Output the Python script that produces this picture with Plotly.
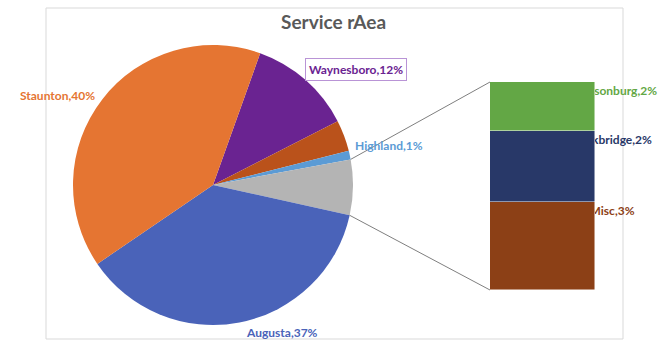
import math
import plotly.graph_objects as go

W, H = 665, 350

# ---- data ----
# pie slices, clockwise order starting at the Staunton/Waynesboro edge
pie_names = ["Waynesboro", "Other", "Highland", "Harrisonburg, Rockbridge & Misc", "Augusta", "Staunton"]
bar_names = ["Misc", "Rockbridge", "Harrisonburg"]          # bottom -> top
bar_values = [2.7, 2.2, 1.5]
pie_values_main = {"Waynesboro": 12, "Other": 3.6, "Highland": 1, "Augusta": 37, "Staunton": 40}
pie_values = [pie_values_main.get(n, sum(bar_values)) for n in pie_names]

pie_colors = ["#6A2391", "#BA521B", "#5B9BD5", "#B4B4B4", "#4A63B9", "#E57532"]
bar_colors = ["#8C4016", "#283868", "#63A745"]

# ---- geometry (styling) ----
CX, CY, R = 213, 185, 140           # pie centre / radius in px
ROT = 19.7                          # degrees clockwise from 12 o'clock
BAR_X0, BAR_X1, BAR_Y0, BAR_Y1 = 490, 595, 82, 290
AREA_X1 = 662                        # right end of the bar subplot area (for labels)
FONT = "Lato"

def px_x(x):
    return x / W

def px_y(y):
    return 1 - y / H

total = sum(pie_values)

fig = go.Figure()

fig.add_trace(go.Pie(
    labels=pie_names, values=pie_values, sort=False, direction="clockwise",
    rotation=ROT, textinfo="none", hoverinfo="label+percent",
    marker=dict(colors=pie_colors, line=dict(width=0)),
    domain=dict(x=[px_x(CX - R), px_x(CX + R)], y=[px_y(CY + R), px_y(CY - R)]),
    showlegend=False,
))

# labels of the bar (drawn underneath the bar, so the bar hides their start)
bar_total = sum(bar_values)
tops = []
acc = 0
for v in bar_values:
    acc += v
    tops.append(acc)
LABEL_DROP = 0.3
LABEL_CENTER_PX = 612
fig.add_trace(go.Scatter(
    x=[LABEL_CENTER_PX - BAR_X0] * len(bar_names), y=[t - LABEL_DROP for t in tops],
    mode="text",
    text=[f"<b>{n},{int(v + 0.5)}%</b>" for n, v in zip(bar_names, bar_values)],
    textposition="middle center",
    textfont=dict(family=FONT, size=12, color=bar_colors),
    cliponaxis=False, showlegend=False, hoverinfo="skip",
    xaxis="x", yaxis="y",
))

for n, v, c in zip(bar_names, bar_values, bar_colors):
    fig.add_trace(go.Bar(
        x=[0], y=[v], name=n, width=1,
        marker=dict(color=c, line=dict(color="rgba(255,255,255,0.6)", width=0.8)),
        showlegend=False, xaxis="x2", yaxis="y2",
    ))

span_px = AREA_X1 - BAR_X0
bar_px = BAR_X1 - BAR_X0
axis_common = dict(visible=False, showgrid=False, zeroline=False, fixedrange=True)
fig.update_layout(
    width=W, height=H, margin=dict(l=0, r=0, t=0, b=0),
    paper_bgcolor="white", plot_bgcolor="rgba(0,0,0,0)",
    barmode="stack", bargap=0,
    xaxis=dict(domain=[px_x(BAR_X0), px_x(AREA_X1)], range=[0, span_px], **axis_common),
    yaxis=dict(domain=[px_y(BAR_Y1), px_y(BAR_Y0)], range=[0, bar_total], **axis_common),
    xaxis2=dict(overlaying="x", range=[-0.5, -0.5 + span_px / bar_px], **axis_common),
    yaxis2=dict(overlaying="y", range=[0, bar_total], **axis_common),
)

# connector lines from the grey slice to the bar
cum_before = sum(pie_values[:3])
a0 = math.radians(ROT + 360 * cum_before / total)
a1 = math.radians(ROT + 360 * (cum_before + pie_values[3]) / total)
p0 = (CX + R * math.sin(a0), CY - R * math.cos(a0))
p1 = (CX + R * math.sin(a1), CY - R * math.cos(a1))
shapes = [
    dict(type="rect", xref="paper", yref="paper", x0=px_x(46), x1=px_x(623), y0=px_y(339), y1=px_y(8),
         line=dict(color="#D9D9D9", width=1), fillcolor="rgba(0,0,0,0)", layer="below"),
    dict(type="line", xref="paper", yref="paper", x0=px_x(p0[0]), y0=px_y(p0[1]), x1=px_x(BAR_X0), y1=px_y(BAR_Y0),
         line=dict(color="#7F7F7F", width=1)),
    dict(type="line", xref="paper", yref="paper", x0=px_x(p1[0]), y0=px_y(p1[1]), x1=px_x(BAR_X0), y1=px_y(BAR_Y1),
         line=dict(color="#7F7F7F", width=1)),
]
fig.update_layout(shapes=shapes)

pct = {n: v / total * 100 for n, v in zip(pie_names, pie_values)}
anns = [
    dict(text="<b>Service rAea</b>", x=px_x(333), y=px_y(22), font=dict(family=FONT, size=19, color="#595959")),
    dict(text=f"<b>Staunton,{pct['Staunton']:.0f}%</b>", x=px_x(57), y=px_y(96), font=dict(family=FONT, size=12, color=pie_colors[5])),
    dict(text=f"<b>Waynesboro,{pct['Waynesboro']:.0f}%</b>", x=px_x(356), y=px_y(70), font=dict(family=FONT, size=12, color=pie_colors[0]),
         bordercolor="#B994D6", borderwidth=1, borderpad=3, bgcolor="white"),
    dict(text=f"<b>Highland,{pct['Highland']:.0f}%</b>", x=px_x(389), y=px_y(145), font=dict(family=FONT, size=12, color=pie_colors[2])),
    dict(text=f"<b>Augusta,{pct['Augusta']:.0f}%</b>", x=px_x(282), y=px_y(332), font=dict(family=FONT, size=12, color=pie_colors[4])),
]
for a in anns:
    a.update(xref="paper", yref="paper", showarrow=False, xanchor="center", yanchor="middle")
fig.update_layout(annotations=anns)

fig.write_html("out.html")
